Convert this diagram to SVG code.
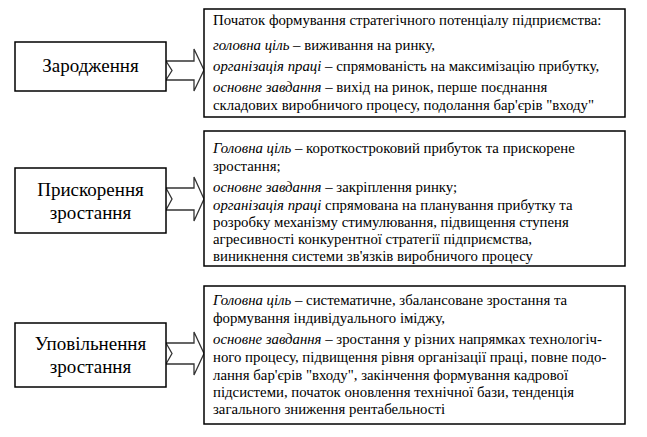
<svg xmlns="http://www.w3.org/2000/svg" width="647" height="437" viewBox="0 0 647 437">
<style>
.box{fill:#fff;stroke:#000;stroke-width:1.5}
.arr{fill:#fff;stroke:#333;stroke-width:1.3;stroke-linejoin:miter}
</style>
<rect width="647" height="437" fill="#fff"/>
<g id="connectors">
<polygon class="arr" points="166,61 194,61 194,49 204,70 194,91 194,80 166,80 172,70.5"/>
<polygon class="arr" points="166,188 194,188 194,177 204,199 194,221 194,210 166,210 172,199"/>
<polygon class="arr" points="166,343 194,343 194,332 204,353.5 194,375 194,364 166,364 172,353.5"/>
</g>
<g id="stage1" font-family="Liberation Serif" font-size="19" text-anchor="middle" fill="#000">
<rect class="box" x="15" y="42" width="151" height="49"/>
<text x="90.5" y="72">Зародження</text>
</g>
<g id="desc1" font-family="Liberation Serif" font-size="14.8" fill="#000">
<rect class="box" x="204" y="9" width="421" height="108"/>
<text x="213" y="25">Початок формування стратегічного потенціалу підприємства:</text>
<text x="213" y="50"><tspan font-style="italic">головна ціль</tspan> – виживання на ринку,</text>
<text x="213" y="71"><tspan font-style="italic">організація праці</tspan> – спрямованість на максимізацію прибутку,</text>
<text x="213" y="92"><tspan font-style="italic">основне завдання</tspan> – вихід на ринок, перше поєднання</text>
<text x="213" y="110">складових виробничого процесу, подолання бар'єрів "входу"</text>
</g>
<g id="stage2" font-family="Liberation Serif" font-size="19" text-anchor="middle" fill="#000">
<rect class="box" x="15" y="168" width="151" height="65"/>
<text x="90.5" y="196">Прискорення</text>
<text x="90.5" y="219">зростання</text>
</g>
<g id="desc2" font-family="Liberation Serif" font-size="14.8" fill="#000">
<rect class="box" x="204" y="131" width="421" height="135"/>
<text x="213" y="153"><tspan font-style="italic">Головна ціль</tspan> – короткостроковий прибуток та прискорене</text>
<text x="213" y="171">зростання;</text>
<text x="213" y="192"><tspan font-style="italic">основне завдання</tspan> – закріплення ринку;</text>
<text x="213" y="210"><tspan font-style="italic">організація праці</tspan> спрямована на планування прибутку та</text>
<text x="213" y="227">розробку механізму стимулювання, підвищення ступеня</text>
<text x="213" y="244">агресивності конкурентної стратегії підприємства,</text>
<text x="213" y="261">виникнення системи зв'язків виробничого процесу</text>
</g>
<g id="stage3" font-family="Liberation Serif" font-size="19" text-anchor="middle" fill="#000">
<rect class="box" x="15" y="323" width="151" height="64"/>
<text x="90.5" y="350">Уповільнення</text>
<text x="90.5" y="373">зростання</text>
</g>
<g id="desc3" font-family="Liberation Serif" font-size="14.8" fill="#000">
<rect class="box" x="204" y="286" width="421" height="138"/>
<text x="213" y="305"><tspan font-style="italic">Головна ціль</tspan> – систематичне, збалансоване зростання та</text>
<text x="213" y="323">формування індивідуального іміджу,</text>
<text x="213" y="344"><tspan font-style="italic">основне завдання</tspan> – зростання у різних напрямках технологіч-</text>
<text x="213" y="362">ного процесу, підвищення рівня організації праці, повне подо-</text>
<text x="213" y="380">лання бар'єрів "входу", закінчення формування кадрової</text>
<text x="213" y="397">підсистеми, початок оновлення технічної бази, тенденція</text>
<text x="213" y="414">загального зниження рентабельності</text>
</g>
</svg>
